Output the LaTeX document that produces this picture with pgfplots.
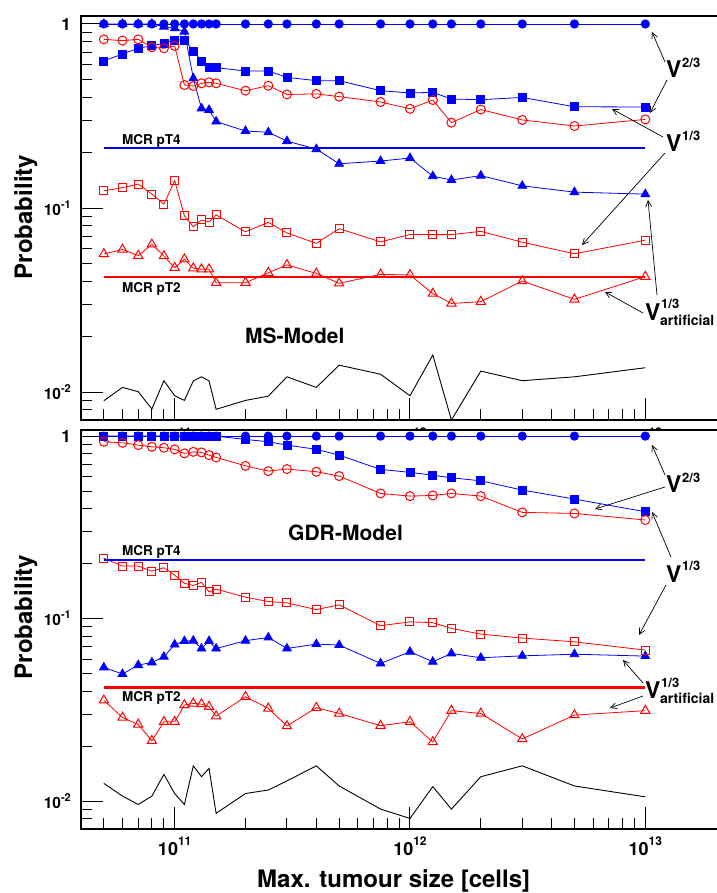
\documentclass[border=0pt]{standalone}
\usepackage{pgfplots}
\pgfplotsset{compat=1.18}
\usepackage{pgfplotstable}
\usepackage{fontspec}
\setmainfont{TeX Gyre Heros}
\usetikzlibrary{arrows.meta}

\pgfplotstableread{
x       c s     t     oc    os     ot     k
5e10    1 0.630 1.000 0.825 0.124  0.0563 0.00897
6e10    1 0.687 1.000 0.812 0.129  0.0595 0.0106
7e10    1 0.738 1.000 0.825 0.135  0.0551 0.01005
8e10    1 0.762 1.000 0.747 0.119  0.0635 0.00809
9e10    1 0.785 0.967 0.738 0.105  0.0549 0.01153
1e11    1 0.819 0.947 0.759 0.141  0.0474 0.00955
1.1e11  1 0.819 0.908 0.466 0.0906 0.0527 0.00901
1.2e11  1 0.713 0.507 0.460 0.0791 0.0471 0.0115
1.3e11  1 0.630 0.348 0.476 0.0861 0.0465 0.0121
1.4e11  1 0.579 0.341 0.482 0.0839 0.0465 0.0115
1.5e11  1 0.579 0.295 0.476 0.0917 0.0393 0.00806
2e11    1 0.555 0.262 0.434 0.0743 0.0393 0.00901
2.5e11  1 0.555 0.258 0.462 0.0836 0.0445 0.0095
3e11    1 0.513 0.231 0.414 0.0732 0.0491 0.0121
4e11    1 0.492 0.209 0.417 0.0643 0.0441 0.0106
5e11    1 0.492 0.174 0.403 0.0772 0.0390 0.0140
7.5e11  1 0.434 0.180 0.377 0.0655 0.0436 0.0125
1e12    1 0.422 0.187 0.346 0.0718 0.0433 0.00955
1.25e12 1 0.425 0.149 0.386 0.0717 0.0343 0.0159
1.5e12  1 0.391 0.142 0.291 0.0717 0.0303 0.00705
2e12    1 0.388 0.150 0.343 0.0747 0.0310 0.0130
3e12    1 0.399 0.132 0.301 0.0652 0.0401 0.01153
5e12    1 0.355 0.122 0.279 0.0564 0.0319 0.0121
1e13    1 0.354 0.119 0.303 0.0669 0.0424 0.01356
}\msdata

\pgfplotstableread{
x       c s     t      oc    os     ot     k
5e10    1 1     0.0540 0.931 0.214  0.0357 0.0125
6e10    1 1     0.0497 0.919 0.194  0.0287 0.01065
7e10    1 1     0.0556 0.893 0.194  0.0263 0.00958
8e10    1 1     0.0575 0.874 0.182  0.0214 0.01065
9e10    1 1     0.0618 0.863 0.190  0.0272 0.0140
1e11    1 1     0.0721 0.846 0.173  0.0272 0.0110
1.1e11  1 1     0.0753 0.804 0.156  0.0336 0.00958
1.2e11  1 1     0.0757 0.820 0.152  0.0343 0.0156
1.3e11  1 1     0.0685 0.814 0.158  0.0340 0.0136
1.4e11  1 1     0.0753 0.787 0.140  0.0329 0.0151
1.5e11  1 1     0.0685 0.764 0.145  0.0292 0.00857
2e11    1 0.959 0.0757 0.687 0.131  0.0373 0.0110
2.5e11  1 0.931 0.0788 0.643 0.124  0.0322 0.0115
3e11    1 0.893 0.0686 0.660 0.122  0.0258 0.0129
4e11    1 0.846 0.0725 0.638 0.112  0.0325 0.0156
5e11    1 0.787 0.0716 0.604 0.119  0.0302 0.0121
7.5e11  1 0.657 0.0568 0.485 0.0914 0.0259 0.00904
1e12    1 0.633 0.0658 0.469 0.0960 0.0272 0.00803
1.25e12 1 0.611 0.0580 0.473 0.0950 0.0211 0.0120
1.5e12  1 0.591 0.0644 0.485 0.0883 0.0313 0.00904
2e12    1 0.569 0.0610 0.469 0.0822 0.0302 0.0136
3e12    1 0.506 0.0625 0.382 0.0782 0.0219 0.0156
5e12    1 0.452 0.0638 0.377 0.0746 0.0296 0.0121
1e13    1 0.385 0.0623 0.347 0.0672 0.0313 0.01055
}\gdrdata

\newcommand\xtl[1]{\bfseries\fontsize{18}{18}\selectfont 10\raisebox{10pt}{\fontsize{12}{12}\selectfont #1}}
\newcommand\ytl[1]{\bfseries\fontsize{15.5}{15.5}\selectfont 10\raisebox{7pt}{\fontsize{11}{11}\selectfont #1}}
\newcommand\yone{\bfseries\fontsize{17}{17}\selectfont 1}

\begin{document}
\begin{tikzpicture}[
  bc/.style={blue, line width=0.8pt, mark=*, mark size=4.2pt, mark options={solid}},
  bs/.style={blue, line width=0.8pt, mark=square*, mark size=4pt, mark options={solid}},
  bt/.style={blue, line width=0.8pt, mark=triangle*, mark size=5pt, mark options={solid}},
  rc/.style={red, line width=0.8pt, mark=o, mark size=4.5pt, mark options={solid, line width=1pt}},
  rs/.style={red, line width=0.8pt, mark=square, mark size=4pt, mark options={solid, line width=1pt}},
  rt/.style={red, line width=0.8pt, mark=triangle, mark size=5.3pt, mark options={solid, line width=1pt}},
  kl/.style={black, line width=0.9pt},
]
\path[use as bounding box] (0pt,0pt) rectangle (716pt,-893pt);

% ---- top panel: MS-Model
\begin{axis}[at={(81pt,-16pt)}, anchor=north west,
    scale only axis, width=639pt, height=404pt,
    xmode=log, ymode=log,
    xmin=4e10, xmax=2.078e13, ymin=0.00705, ymax=1.105,
    axis line style={line width=1.2pt},
    tick align=inside, xtick pos=bottom, ytick pos=left,
    xtick={1e11,1e12,1e13},
    xticklabels={\xtl{11},\xtl{12},\xtl{13}},
    minor xtick={5e10,6e10,7e10,8e10,9e10,2e11,3e11,4e11,5e11,6e11,7e11,8e11,9e11,2e12,3e12,4e12,5e12,6e12,7e12,8e12,9e12},
    ytick={0.01,0.1,1},
    yticklabels={\ytl{-2},\ytl{-1},\yone},
    minor ytick={0.008,0.009,0.02,0.03,0.04,0.05,0.06,0.07,0.08,0.09,0.2,0.3,0.4,0.5,0.6,0.7,0.8,0.9},
    tick style={line width=1pt, black},
    major tick length=22pt, minor tick length=11pt,
    yticklabel style={inner sep=0pt, xshift=-10pt},
    xticklabel style={inner sep=0pt, yshift=-8pt},
  ]
  \addplot[bt] table[x=x, y=t] {\msdata};
  \addplot[bc] table[x=x, y=c] {\msdata};
  \addplot[bs] table[x=x, y=s] {\msdata};
  \addplot[rc] table[x=x, y=oc] {\msdata};
  \addplot[rs] table[x=x, y=os] {\msdata};
  \addplot[red, line width=2.5pt] coordinates {(5e10,0.0423) (1e13,0.0423)};
  \addplot[rt] table[x=x, y=ot] {\msdata};
  \addplot[blue, line width=2.5pt] coordinates {(5e10,0.212) (1e13,0.212)};
  \addplot[kl] table[x=x, y=k] {\msdata};
\end{axis}

% ---- bottom panel: GDR-Model
\begin{axis}[at={(81pt,-430pt)}, anchor=north west,
    scale only axis, width=639pt, height=399pt,
    xmode=log, ymode=log,
    xmin=4e10, xmax=2.078e13, ymin=0.00703, ymax=1.08,
    axis background/.style={fill=white},
    axis line style={line width=1.2pt},
    tick align=inside, xtick pos=bottom, ytick pos=left,
    xtick={1e11,1e12,1e13},
    xticklabels={\xtl{11},\xtl{12},\xtl{13}},
    minor xtick={5e10,6e10,7e10,8e10,9e10,2e11,3e11,4e11,5e11,6e11,7e11,8e11,9e11,2e12,3e12,4e12,5e12,6e12,7e12,8e12,9e12},
    ytick={0.01,0.1,1},
    yticklabels={\ytl{-2},\ytl{-1},\yone},
    minor ytick={0.008,0.009,0.02,0.03,0.04,0.05,0.06,0.07,0.08,0.09,0.2,0.3,0.4,0.5,0.6,0.7,0.8,0.9},
    tick style={line width=1pt, black},
    major tick length=22pt, minor tick length=11pt,
    yticklabel style={inner sep=0pt, xshift=-10pt},
    xticklabel style={inner sep=0pt, yshift=-8pt},
  ]
  \addplot[bt] table[x=x, y=t] {\gdrdata};
  \addplot[bc] table[x=x, y=c] {\gdrdata};
  \addplot[bs] table[x=x, y=s] {\gdrdata};
  \addplot[rc] table[x=x, y=oc] {\gdrdata};
  \addplot[rs] table[x=x, y=os] {\gdrdata};
  \addplot[red, line width=2.5pt] coordinates {(5e10,0.042) (1e13,0.042)};
  \addplot[rt] table[x=x, y=ot] {\gdrdata};
  \addplot[blue, line width=2.5pt] coordinates {(5e10,0.21) (1e13,0.21)};
  \addplot[kl] table[x=x, y=k] {\gdrdata};
\end{axis}

\begin{scope}[x=1pt, y=-1pt, every node/.style={inner sep=0pt, font=\bfseries},
  arr/.style={-{Straight Barb[length=6pt,width=6pt]}, line width=0.7pt, black}]
  % axis titles
  \node[rotate=90, anchor=base] at (32,217) {\fontsize{24}{24}\selectfont Probability};
  \node[rotate=90, anchor=base] at (32,617) {\fontsize{24}{24}\selectfont Probability};
  \node[anchor=base west] at (257,887) {\fontsize{24}{24}\selectfont Max. tumour size [cells]};
  % model names
  \node[anchor=base west] at (245,343) {\fontsize{21}{21}\selectfont MS-Model};
  \node[anchor=base west] at (288,540) {\fontsize{21}{21}\selectfont GDR-Model};
  % MCR labels
  \node[anchor=base west] at (122,145) {\fontsize{13.5}{13.5}\selectfont MCR pT4};
  \node[anchor=base west] at (122,292) {\fontsize{13.5}{13.5}\selectfont MCR pT2};
  \node[anchor=base west] at (122,555) {\fontsize{13.5}{13.5}\selectfont MCR pT4};
  \node[anchor=base west] at (122,701) {\fontsize{13.5}{13.5}\selectfont MCR pT2};
  % top annotations
  \node[anchor=base west] at (666,78) {\fontsize{23}{23}\selectfont V};
  \node[anchor=base west] at (682,68) {\fontsize{13}{13}\selectfont 2/3};
  \node[anchor=base west] at (666,152) {\fontsize{23}{23}\selectfont V};
  \node[anchor=base west] at (682,141) {\fontsize{13}{13}\selectfont 1/3};
  \node[anchor=base west] at (645,320) {\fontsize{23}{23}\selectfont V};
  \node[anchor=base west] at (661,308) {\fontsize{13}{13}\selectfont 1/3};
  \node[anchor=base west] at (660,325) {\fontsize{14}{14}\selectfont artificial};
  \draw[arr] (665,62) -- (652,32);
  \draw[arr] (667,80) -- (650,113);
  \draw[arr] (663,137) -- (612,109);
  \draw[arr] (665,153) -- (582,245);
  \draw[arr] (657,295) -- (648,200);
  \draw[arr] (643,313) -- (605,292);
  % bottom annotations
  \node[anchor=base west] at (666,492) {\fontsize{23}{23}\selectfont V};
  \node[anchor=base west] at (682,482) {\fontsize{13}{13}\selectfont 2/3};
  \node[anchor=base west] at (666,582) {\fontsize{23}{23}\selectfont V};
  \node[anchor=base west] at (682,570) {\fontsize{13}{13}\selectfont 1/3};
  \node[anchor=base west] at (645,698) {\fontsize{23}{23}\selectfont V};
  \node[anchor=base west] at (661,687) {\fontsize{13}{13}\selectfont 1/3};
  \node[anchor=base west] at (660,703) {\fontsize{14}{14}\selectfont artificial};
  \draw[arr] (665,475) -- (652,445);
  \draw[arr] (665,487) -- (595,509);
  \draw[arr] (671,557) -- (652,512);
  \draw[arr] (666,585) -- (639,635);
  \draw[arr] (643,683) -- (623,660);
  \draw[arr] (643,696) -- (610,708);
\end{scope}
\end{tikzpicture}
\end{document}
